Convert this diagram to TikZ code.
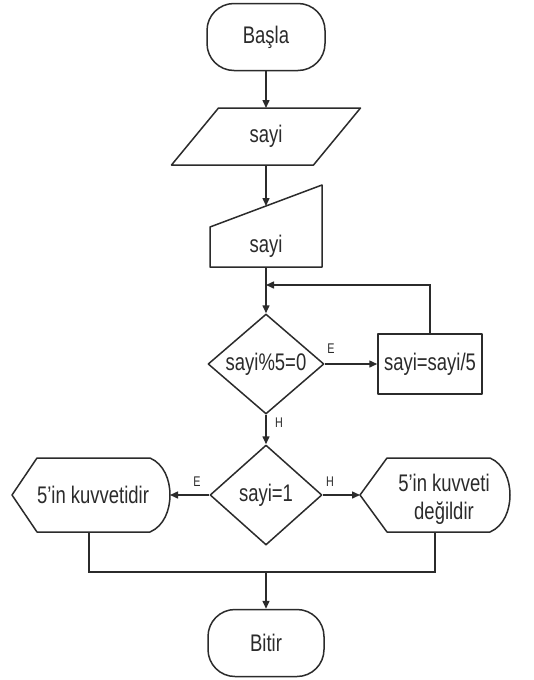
\documentclass[tikz,border=0pt]{standalone}
\usepackage{fontspec}
\setmainfont{Liberation Sans}[FakeStretch=0.77]
\usetikzlibrary{arrows.meta,shapes.geometric}
\definecolor{ink}{HTML}{2B2B2B}
\begin{document}
\begin{tikzpicture}[x=1pt,y=-1pt,
  outline/.style={draw=ink, line width=1.5pt, line join=round},
  conn/.style={draw=ink, line width=1.5pt},
  arr/.style={conn, -{Triangle[length=8pt,width=7pt]}},
  txt/.style={font=\fontsize{24}{28}\selectfont, text=ink, inner sep=0pt},
  tag/.style={font=\fontsize{14}{16}\selectfont, text=ink, inner sep=0pt},
  term/.style={outline, txt, rounded corners=27pt, minimum width=118pt, minimum height=67pt},
  proc/.style={outline, txt, minimum width=104pt, minimum height=60pt},
  decision/.style={outline, txt, diamond, aspect=1.16, minimum width=116pt, minimum height=100pt},
]
\useasboundingbox[fill=white] (0,0) rectangle (533,680);

% start terminal
\node[term] (start) at (266,37) {Başla};

% input (parallelogram)
\draw[outline] (218.5,108) -- (360.5,108) -- (313.5,165) -- (171.5,165) -- cycle;
\node[txt] (inp) at (266,136.5) {sayi};
\coordinate (inpN) at (266,108);
\coordinate (inpS) at (266,165);

% manual input
\draw[outline] (210,227) -- (322,185) -- (322,267) -- (210,267) -- cycle;
\node[txt] (man) at (266,246) {sayi};
\coordinate (manN) at (266,206);
\coordinate (manS) at (266,267);

% loop test and update
\node[decision] (dec1) at (266,364) {sayi\%5=0};
\node[proc] (upd) at (430,364) {sayi=sayi/5};
\coordinate (loopIn) at (266,285);

% final test
\node[decision, minimum width=112pt] (dec2) at (266,495) {sayi=1};

% display: is a power of 5
\draw[outline] (12,495) -- (37,458) -- (150,458)
  .. controls (164,464) and (170,480) .. (170,495)
  .. controls (170,510) and (164,526) .. (150,532) -- (37,532) -- cycle;
\node[txt] (yes) at (93,495) {5'in kuvvetidir};
\coordinate (yesE) at (170,495);
\coordinate (yesS) at (89,532);

% display: is not a power of 5
\draw[outline] (360,495) -- (387,458) -- (490,458)
  .. controls (504,464) and (510,480) .. (510,495)
  .. controls (510,510) and (504,526) .. (490,532) -- (387,532) -- cycle;
\node[txt, align=center] (no) at (444,499) {5'in kuvveti\\değildir};
\coordinate (noW) at (360,495);
\coordinate (noS) at (435,532);

% end terminal
\node[term, minimum width=116pt] (stop) at (266,643) {Bitir};
\coordinate (join) at (266,572);

% connectors
\draw[arr] (start.south) -- (inpN);
\draw[arr] (inpS) -- (manN);
\draw[arr] (manS) -- (dec1.north);
\draw[arr] (dec1.east) -- (upd.west);
\draw[arr] (upd.north) |- (loopIn);
\draw[arr] (dec1.south) -- (dec2.north);
\draw[arr] (dec2.west) -- (yesE);
\draw[arr] (dec2.east) -- (noW);
\draw[conn] (yesS) -- (89,572) -- (435,572) -- (noS);
\draw[arr] (join) -- (stop.north);

% branch labels
\node[tag] (e1) at (331,349) {E};
\node[tag] (h1) at (279,423) {H};
\node[tag] (e2) at (197,482) {E};
\node[tag] (h2) at (330,482) {H};
\end{tikzpicture}
\end{document}
